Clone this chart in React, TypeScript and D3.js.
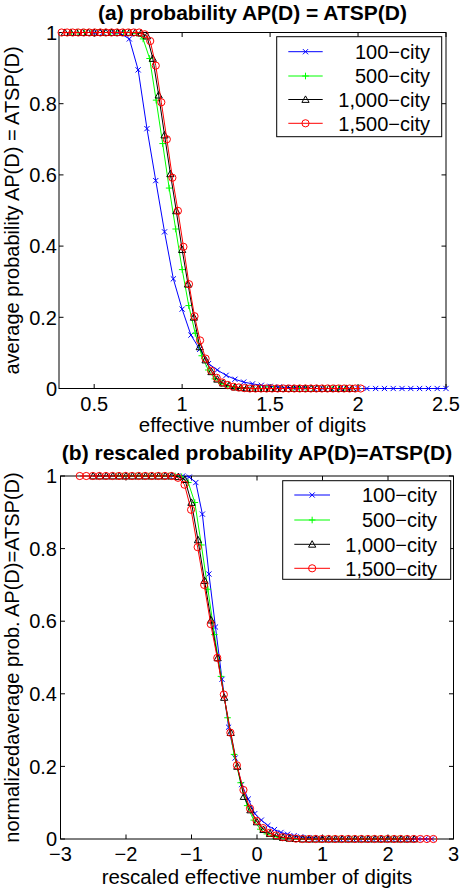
import * as d3 from 'd3';

const CITIES = [100, 500, 1000, 1500];
const SERIES_NAMES = ['100−city', '500−city', '1,000−city', '1,500−city'];
const SERIES_COLORS = ['#0000ff', '#00ff00', '#000000', '#ff0000'];
const SERIES_MARKERS = ['x', 'plus', 'triangle', 'circle'];

// number of digits D used in the runs (same grid for every city size)
const DIGITS = [
  1.0, 1.1, 1.2, 1.3, 1.4, 1.5, 1.6, 1.7, 1.8, 1.9,
  2.0, 2.1, 2.2, 2.3, 2.4, 2.5, 2.6, 2.7, 2.8, 2.9,
  3.0, 3.1, 3.2, 3.3, 3.4, 3.5, 3.6, 3.7, 3.8, 3.9,
  4.0, 4.1, 4.2, 4.3, 4.4, 4.5, 4.6, 4.7, 4.8, 4.9,
  5.0, 5.1, 5.2, 5.3, 5.4, 5.5, 5.6, 5.7, 5.8, 5.9,
  6.0, 6.1, 6.2, 6.3, 6.4,
];

const P_100 = [
  1, 1, 1, 0.997, 0.982, 0.895, 0.73, 0.584, 0.44, 0.308,
  0.223, 0.15, 0.11, 0.07, 0.052, 0.037, 0.026, 0.018, 0.013, 0.009,
  0.006, 0.004, 0.003, 0.002, 0.001, 0, 0, 0, 0, 0,
  0, 0, 0, 0, 0, 0, 0, 0, 0, 0,
  0,
];
const P_500 = [
  1, 1, 1, 1, 1, 1, 1, 1, 1, 1,
  0.998, 0.982, 0.927, 0.81, 0.688, 0.563, 0.448, 0.334, 0.233, 0.155,
  0.092, 0.052, 0.027, 0.014, 0.007, 0.004, 0.002, 0.001, 0, 0,
  0, 0, 0, 0, 0, 0, 0, 0, 0, 0,
  0, 0, 0, 0, 0,
];
const P_1000 = [
  1, 1, 1, 1, 1, 1, 1, 1, 1, 1,
  1, 1, 1, 0.998, 0.99, 0.927, 0.824, 0.712, 0.603, 0.499,
  0.39, 0.293, 0.2, 0.117, 0.08, 0.047, 0.026, 0.015, 0.008, 0.004,
  0.002, 0.001, 0, 0, 0, 0, 0, 0, 0, 0,
  0, 0, 0, 0, 0, 0, 0, 0, 0, 0,
];
const P_1500 = [
  1, 1, 1, 1, 1, 1, 1, 1, 1, 1,
  1, 1, 1, 1, 1, 0.995, 0.976, 0.907, 0.804, 0.7,
  0.592, 0.499, 0.398, 0.293, 0.203, 0.135, 0.084, 0.05, 0.03, 0.017,
  0.01, 0.005, 0.003, 0.001, 0, 0, 0, 0, 0, 0,
  0, 0, 0, 0, 0, 0, 0, 0, 0, 0,
  0, 0, 0, 0, 0,
];
const PROBS = [P_100, P_500, P_1000, P_1500];

// critical effective number of digits (D / log10 n) used for the rescaling
const CRITICAL = 1.167;

const Y_TICKS = [0, 0.2, 0.4, 0.6, 0.8, 1];
const X_TICKS_A = [0.5, 1, 1.5, 2, 2.5];
const X_TICKS_B = [-3, -2, -1, 0, 1, 2, 3];

const FONT = 'Liberation Sans, Arial, Helvetica, sans-serif';

type Pt = [number, number];

function fmt(t: number) {
  return t < 0 ? '−' + Math.abs(t) : String(t);
}

function Marker({ kind, cx, cy, color }: { kind: string; cx: number; cy: number; color: string }) {
  if (kind === 'x') {
    const s = 2.6;
    return (
      <path d={`M${cx - s},${cy - s}L${cx + s},${cy + s}M${cx - s},${cy + s}L${cx + s},${cy - s}`}
        stroke={color} strokeWidth={1} fill="none" />
    );
  }
  if (kind === 'plus') {
    const s = 3.3;
    return (
      <path d={`M${cx - s},${cy}L${cx + s},${cy}M${cx},${cy - s}L${cx},${cy + s}`}
        stroke={color} strokeWidth={1} fill="none" />
    );
  }
  if (kind === 'triangle') {
    const s = 3.6;
    return (
      <path d={`M${cx},${cy - s}L${cx + s},${cy + s * 0.8}L${cx - s},${cy + s * 0.8}Z`}
        stroke={color} strokeWidth={1} fill="none" />
    );
  }
  return <circle cx={cx} cy={cy} r={3.6} stroke={color} strokeWidth={1} fill="none" />;
}

interface PanelProps {
  box: { left: number; right: number; top: number; bottom: number };
  xDomain: [number, number];
  xTicks: number[];
  xOf: (d: number, log10n: number) => number;
  title: string;
  titleY: number;
  xLabel: string;
  xLabelY: number;
  xTickY: number;
  yLabel: string;
  yLabelX: number;
  yTickX: number;
  legend: { x: number; y: number; w: number; h: number; rows: number[]; x1: number; x2: number; textX: number };
}

function Panel(p: PanelProps) {
  const { box } = p;
  const x = d3.scaleLinear().domain(p.xDomain).range([box.left, box.right]);
  const y = d3.scaleLinear().domain([0, 1]).range([box.bottom, box.top]);
  const line = d3.line<Pt>().x(d => x(d[0])).y(d => y(d[1]));
  const tick = 4.5;

  const series = CITIES.map((n, i) => {
    const log10n = Math.log10(n);
    const pts: Pt[] = PROBS[i].map((v, k) => [p.xOf(DIGITS[k], log10n), v]);
    return { pts, color: SERIES_COLORS[i], marker: SERIES_MARKERS[i], name: SERIES_NAMES[i] };
  });

  const cx = (box.left + box.right) / 2;
  const cy = (box.top + box.bottom) / 2;

  return (
    <g fontFamily={FONT}>
      <text x={cx} y={p.titleY} textAnchor="middle" fontSize={21} fontWeight="bold">{p.title}</text>

      {/* box */}
      <rect x={box.left} y={box.top} width={box.right - box.left} height={box.bottom - box.top}
        fill="white" stroke="#000" strokeWidth={1} />

      {/* ticks, inward on all four sides */}
      {p.xTicks.map(t => (
        <g key={'x' + t}>
          <line x1={x(t)} x2={x(t)} y1={box.bottom} y2={box.bottom - tick} stroke="#000" />
          <line x1={x(t)} x2={x(t)} y1={box.top} y2={box.top + tick} stroke="#000" />
          <text x={x(t)} y={p.xTickY} textAnchor="middle" fontSize={20}>{fmt(t)}</text>
        </g>
      ))}
      {Y_TICKS.map(t => (
        <g key={'y' + t}>
          <line x1={box.left} x2={box.left + tick} y1={y(t)} y2={y(t)} stroke="#000" />
          <line x1={box.right} x2={box.right - tick} y1={y(t)} y2={y(t)} stroke="#000" />
          <text x={p.yTickX} y={y(t) + 7.2} textAnchor="end" fontSize={20}>{fmt(t)}</text>
        </g>
      ))}

      {/* data */}
      {series.map(s => (
        <g key={s.name}>
          <path d={line(s.pts) ?? ''} fill="none" stroke={s.color} strokeWidth={1} />
          {s.pts.map((d, k) => (
            <Marker key={k} kind={s.marker} cx={x(d[0])} cy={y(d[1])} color={s.color} />
          ))}
        </g>
      ))}

      {/* labels */}
      <text x={cx} y={p.xLabelY} textAnchor="middle" fontSize={20.5}>{p.xLabel}</text>
      <text transform={`translate(${p.yLabelX},${cy}) rotate(-90)`} textAnchor="middle" fontSize={20}>{p.yLabel}</text>

      {/* legend */}
      <rect x={p.legend.x} y={p.legend.y} width={p.legend.w} height={p.legend.h}
        fill="white" stroke="#000" strokeWidth={1} />
      {series.map((s, i) => {
        const ry = p.legend.rows[i];
        return (
          <g key={'lg' + s.name}>
            <line x1={p.legend.x1} x2={p.legend.x2} y1={ry} y2={ry} stroke={s.color} strokeWidth={1} />
            <Marker kind={s.marker} cx={(p.legend.x1 + p.legend.x2) / 2} cy={ry} color={s.color} />
            <text x={p.legend.textX} y={ry + 7.2} textAnchor="end" fontSize={20}>{s.name}</text>
          </g>
        );
      })}
    </g>
  );
}

export default function App() {
  return (
    <div style={{ position: 'absolute', left: 0, top: 0 }}>
      <svg width={462} height={890} viewBox="0 0 462 890" style={{ display: 'block', background: 'white' }}>
        <Panel
          box={{ left: 59, right: 446, top: 32.5, bottom: 388.5 }}
          xDomain={[0.3, 2.5]}
          xTicks={X_TICKS_A}
          xOf={(d, log10n) => d / log10n}
          title="(a) probability AP(D) = ATSP(D)"
          titleY={20}
          xLabel="effective number of digits"
          xLabelY={432}
          xTickY={411}
          yLabel="average probability AP(D) = ATSP(D)"
          yLabelX={18.5}
          yTickX={57}
          legend={{ x: 276.7, y: 36.7, w: 165, h: 100, rows: [51.7, 76, 99.5, 123.3], x1: 288.3, x2: 322.7, textX: 430 }}
        />
        <Panel
          box={{ left: 60.5, right: 453.5, top: 476, bottom: 839 }}
          xDomain={[-3, 3]}
          xTicks={X_TICKS_B}
          xOf={(d, log10n) => d - CRITICAL * log10n}
          title="(b) rescaled probability AP(D)=ATSP(D)"
          titleY={460}
          xLabel="rescaled effective number of digits"
          xLabelY={884}
          xTickY={861}
          yLabel="normalizedaverage prob. AP(D)=ATSP(D)"
          yLabelX={19}
          yTickX={57}
          legend={{ x: 282.7, y: 480.7, w: 168, h: 98.6, rows: [495, 520, 544.3, 568.3], x1: 294.3, x2: 330, textX: 437 }}
        />
      </svg>
    </div>
  );
}
